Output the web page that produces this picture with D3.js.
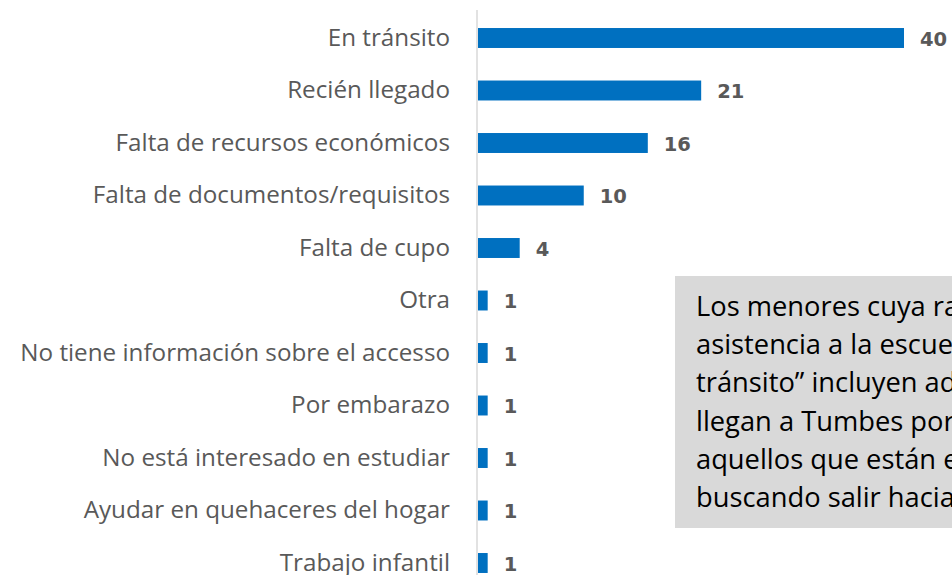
<!DOCTYPE html>
<html>
<head>
<meta charset="utf-8">
<script src="https://cdn.jsdelivr.net/npm/d3@7"></script>
<style>
  html, body { margin: 0; padding: 0; background: #fff; overflow: hidden; }
  svg { display: block; }
</style>
</head>
<body>
<svg id="chart" width="952" height="575"></svg>
<script>
const categories = [
  "En tránsito",
  "Recién llegado",
  "Falta de recursos económicos",
  "Falta de documentos/requisitos",
  "Falta de cupo",
  "Otra",
  "No tiene información sobre el accesso",
  "Por embarazo",
  "No está interesado en estudiar",
  "Ayudar en quehaceres del hogar",
  "Trabajo infantil"
];
const values = [40, 21, 16, 10, 4, 1, 1, 1, 1, 1, 1];
const noteLines = [
  "Los menores cuya razón de no",
  "asistencia a la escuela es “en",
  "tránsito” incluyen adolescentes que",
  "llegan a Tumbes por unos días y",
  "aquellos que están en Tumbes",
  "buscando salir hacia otro país."
];

const svg = d3.select("#chart");
const axisX = 477;

const x = d3.scaleLinear().domain([0, 40]).range([axisX, axisX + 427]);
const y = d3.scaleBand().domain(categories).range([11.75, 589.25])
  .paddingInner(0.62).paddingOuter(0.31);

// vertical axis line
svg.append("line")
  .attr("x1", axisX).attr("x2", axisX)
  .attr("y1", 10).attr("y2", 575)
  .attr("stroke", "#d9d9d9").attr("stroke-width", 1.5);

// bars
svg.selectAll("rect.bar").data(categories).join("rect")
  .attr("class", "bar")
  .attr("x", x(0) + 1)
  .attr("y", d => y(d))
  .attr("width", (d, i) => x(values[i]) - x(0) - 1)
  .attr("height", y.bandwidth())
  .attr("fill", "#0070c0");

// category labels
svg.selectAll("text.cat").data(categories).join("text")
  .attr("class", "cat")
  .attr("x", 450)
  .attr("y", d => y(d) + y.bandwidth() / 2 + 7.5)
  .attr("text-anchor", "end")
  .attr("font-family", "'Open Sans', sans-serif")
  .attr("font-size", 20)
  .attr("fill", "#595959")
  .text(d => d);

// fit longest label to reference width
const labels = svg.selectAll("text.cat").nodes();
let maxW = 0;
labels.forEach(n => { maxW = Math.max(maxW, n.getComputedTextLength()); });
const fs = 20 * 430 / maxW;
svg.selectAll("text.cat").attr("font-size", fs);

// value labels
svg.selectAll("text.val").data(categories).join("text")
  .attr("class", "val")
  .attr("x", (d, i) => x(values[i]) + 16)
  .attr("y", d => y(d) + y.bandwidth() / 2 + 7.5)
  .attr("font-family", "'DejaVu Sans', sans-serif")
  .attr("font-weight", "bold")
  .attr("font-size", 19.5)
  .attr("fill", "#595959")
  .text((d, i) => values[i]);

// note box
svg.append("rect")
  .attr("x", 675).attr("y", 276)
  .attr("width", 300).attr("height", 252)
  .attr("fill", "#d9d9d9");

svg.selectAll("text.note").data(noteLines).join("text")
  .attr("class", "note")
  .attr("x", 696)
  .attr("y", (d, i) => 316 + i * 38.2)
  .attr("font-family", "'Open Sans', sans-serif")
  .attr("font-size", 27.3)
  .attr("fill", "#000")
  .text(d => d);
</script>
</body>
</html>
